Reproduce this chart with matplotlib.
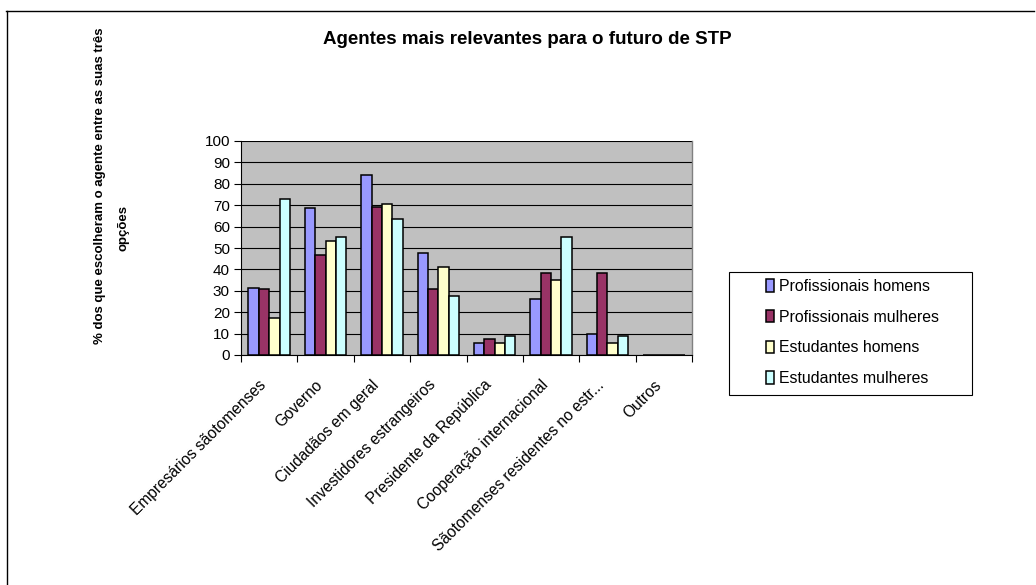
import matplotlib.pyplot as plt
import numpy as np
from matplotlib.lines import Line2D
from matplotlib.patches import Rectangle

plt.rcParams['font.family'] = ['Liberation Sans', 'DejaVu Sans']

# data
agentes = ['Empresários sãotomenses', 'Governo', 'Ciudadãos em geral',
           'Investidores estrangeiros', 'Presidente da República',
           'Cooperação internacional', 'Sãotomenses residentes no estr...',
           'Outros']
prof_homens = [31.5, 68.5, 84, 47.5, 5.5, 26, 10, 0]
prof_mulheres = [31, 46.5, 69, 31, 7.5, 38.5, 38.5, 0]
est_homens = [17.5, 53.5, 70.5, 41, 5.5, 35, 5.5, 0]
est_mulheres = [73, 55, 63.5, 27.5, 9, 55, 9, 0]

series = [('Profissionais homens', prof_homens, '#9999FF'),
          ('Profissionais mulheres', prof_mulheres, '#993366'),
          ('Estudantes homens', est_homens, '#FFFFCC'),
          ('Estudantes mulheres', est_mulheres, '#CCFFFF')]

W, H = 1036, 585
fig = plt.figure(figsize=(W / 100, H / 100), dpi=100)
ax = fig.add_axes([241/W, 1-355/H, 451/W, 214/H])
ax.set_facecolor('#C0C0C0')

x = np.arange(len(agentes))
w = 0.184
for i, (nome, vals, cor) in enumerate(series):
    ax.bar(x + (i - 1.5) * w, vals, w, color=cor, edgecolor='black',
           linewidth=1.1, label=nome, zorder=3)

ax.set_xlim(-0.5, len(agentes) - 0.5)
ax.set_ylim(0, 100)
ax.set_yticks(range(0, 101, 10))
ax.yaxis.grid(True, color='black', linewidth=0.8, zorder=1)
ax.set_axisbelow(True)

ax.set_xticks(np.arange(len(agentes) + 1) - 0.5)
ax.set_xticklabels([])
ax.set_xticks(x, minor=True)
ax.set_xticklabels(agentes, minor=True, rotation=45, ha='right', va='top',
                   fontsize=11.2)
ax.tick_params(axis='x', which='minor', length=0, pad=16)
ax.tick_params(axis='x', which='major', length=5, width=0.8, direction='out')
ax.tick_params(axis='y', length=5, width=0.8, labelsize=11, pad=3)

ax.spines['top'].set_visible(False)
ax.spines['right'].set_color('#808080')
ax.spines['right'].set_linewidth(1.0)
ax.spines['left'].set_linewidth(0.8)
ax.spines['bottom'].set_linewidth(0.8)

fig.text(527/W, 1-40/H, 'Agentes mais relevantes para o futuro de STP',
         ha='center', va='center', fontsize=13.5, fontweight='bold')
fig.text(100/W, 1-186/H, '% dos que escolheram o agente entre as suas três',
         rotation=90, ha='center', va='center', fontsize=9.5, fontweight='bold')
fig.text(124/W, 1-228/H, 'opções',
         rotation=90, ha='center', va='center', fontsize=9.5, fontweight='bold')

# legend box drawn as a frame, entries placed inside
fig.add_artist(Rectangle((729/W, 1-395/H), 243/W, 123/H, fill=False,
                         edgecolor='black', linewidth=0.8,
                         transform=fig.transFigure))
leg = fig.legend(loc='upper left', bbox_to_anchor=(766/W, 1-279/H),
                 frameon=False, fontsize=11.4, handlelength=0.5,
                 handleheight=0.8, handletextpad=0.35, labelspacing=0.99,
                 borderpad=0, borderaxespad=0)

# outer chart border (top and left only visible)
fig.add_artist(Line2D([6/W, 1034/W], [1-10.5/H, 1-10.5/H],
                      color='black', linewidth=1.0, transform=fig.transFigure))
fig.add_artist(Line2D([6.5/W, 6.5/W], [0, 1-10.5/H],
                      color='black', linewidth=1.0, transform=fig.transFigure))

fig.savefig('out.png', dpi=100)
